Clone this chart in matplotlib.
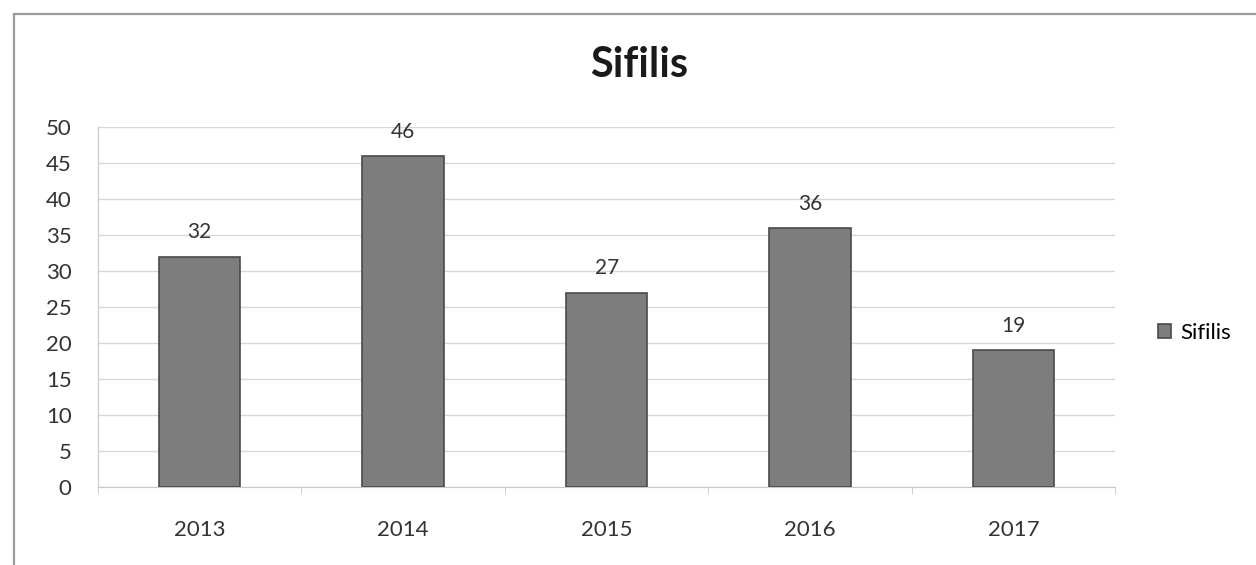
import matplotlib.pyplot as plt
from matplotlib.patches import Rectangle

plt.rcParams['font.family'] = ['Lato', 'DejaVu Sans']

years = ['2013', '2014', '2015', '2016', '2017']
cases = [32, 46, 27, 36, 19]
series_name = 'Sifilis'

fig = plt.figure(figsize=(12.56, 5.65), dpi=100)
ax = fig.add_axes([0.078, 0.138, 0.81, 0.637])

# outer chart frame
fig.patches.append(Rectangle((0.011, -0.1), 1.2, 1.075, transform=fig.transFigure,
                             fill=False, edgecolor='#9a9a9a', linewidth=1.6))

x = range(len(years))
bars = ax.bar(x, cases, width=0.40, color='#7d7d7d', edgecolor='#4a4a4a',
              linewidth=1.2, label=series_name, zorder=3)

for b, v in zip(bars, cases):
    ax.text(b.get_x() + b.get_width() / 2, v + 2.0, str(v), ha='center', va='bottom',
            fontsize=15, color='#333333')

ax.set_xlim(-0.5, len(years) - 0.5)
ax.set_ylim(0, 50)
ax.set_yticks(range(0, 51, 5))
ax.set_xticks(list(x))
ax.set_xticklabels(years)
ax.tick_params(axis='both', labelsize=16, colors='#333333', length=0)
ax.tick_params(axis='x', pad=24)
ax.tick_params(axis='y', pad=19)
# small tick marks between categories
ax.set_xticks([i + 0.5 for i in range(-1, len(years))], minor=True)
ax.tick_params(axis='x', which='minor', length=5, color='#c8c8c8')
ax.yaxis.grid(True, color='#d8d8d8', linewidth=1.0, zorder=0)

for s in ['top', 'right']:
    ax.spines[s].set_visible(False)
ax.spines['left'].set_color('#c8c8c8')
ax.spines['bottom'].set_color('#c8c8c8')

fig.text(0.509, 0.885, 'Sifilis', ha='center', va='center', fontsize=30,
         fontweight='bold', color='#1a1a1a')

ax.legend(loc='center left', bbox_to_anchor=(1.033, 0.428), borderaxespad=0,
          frameon=False, fontsize=16, handlelength=0.6, handleheight=0.6,
          handletextpad=0.4)

fig.savefig('out.png', dpi=100)
